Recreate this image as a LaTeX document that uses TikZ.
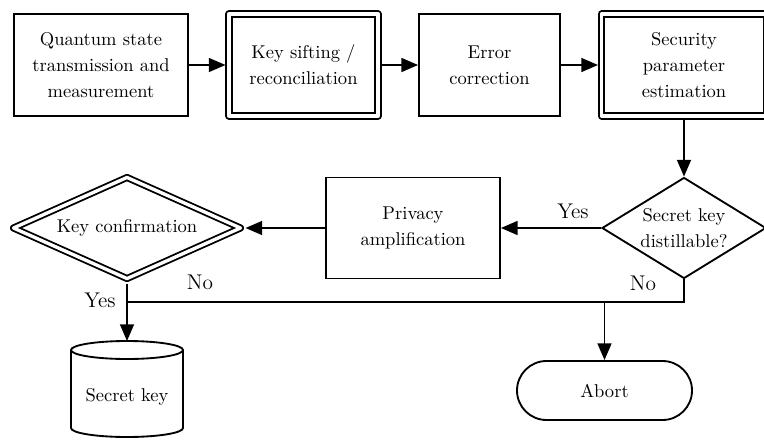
\documentclass[tikz,border=0pt]{standalone}
\usetikzlibrary{shapes.geometric,shapes.misc,arrows.meta}
\begin{document}
\begin{tikzpicture}[x=0.54pt,y=-0.54pt,
  every node/.style={font=\fontsize{10}{14}\selectfont, align=center},
  proc/.style={draw, rectangle, line width=1pt, inner sep=0pt},
  dproc/.style={proc, double, double distance=1.8pt, line join=round, outer sep=1.9pt},
  decision/.style={draw, diamond, line width=1pt, inner sep=0pt},
  ddecision/.style={decision, double, double distance=1.8pt, line join=round, outer sep=1.9pt},
  arr/.style={line width=1pt, -{Triangle[length=9pt,width=7.5pt]}},
  conn/.style={line width=1pt},
  lbl/.style={font=\fontsize{11.5}{14}\selectfont, inner sep=0pt}
]
\clip (0,0) rectangle (764,439);

\node[proc, minimum width=174*0.54pt, minimum height=102*0.54pt] (q) at (101,65)
  {Quantum state\\transmission and\\measurement};
\node[dproc, minimum width=149*0.54pt, minimum height=102*0.54pt] (ks) at (303.5,65)
  {Key sifting /\\reconciliation};
\node[proc, minimum width=141*0.54pt, minimum height=102*0.54pt] (ec) at (489.5,65)
  {Error\\correction};
\node[dproc, minimum width=165*0.54pt, minimum height=102*0.54pt] (sp) at (684,65)
  {Security\\parameter\\estimation};

\node[decision, aspect=1.62, minimum width=164*0.54pt, minimum height=101*0.54pt] (dist) at (684,228)
  {Secret key\\distillable?};
\node[proc, minimum width=174*0.54pt, minimum height=101*0.54pt] (pa) at (413,228)
  {Privacy\\amplification};
\node[ddecision, aspect=2.2, minimum width=230*0.54pt, minimum height=104*0.54pt] (kc) at (127,228)
  {Key confirmation};

\node[proc, rounded rectangle, minimum width=175*0.54pt, minimum height=59*0.54pt] (ab) at (604.5,390.5)
  {Abort};

% cylinder "Secret key"
\node (sk) at (127,397) {Secret key};
\coordinate (skt) at (127,341);
\draw[conn] (127,350) ellipse [x radius=30.24pt, y radius=4.86pt];
\draw[conn] (71,350) -- (71,428)
  arc[start angle=180, end angle=360, x radius=30.24pt, y radius=4.86pt] -- (183,350);

% connectors
\draw[arr] (q.east) -- (ks.west);
\draw[arr] (ks.east) -- (ec.west);
\draw[arr] (ec.east) -- (sp.west);
\draw[arr] (sp.south) -- (dist.north);
\draw[arr] (dist.west) -- (pa.east);
\draw[arr] (pa.west) -- (kc.east);
\draw[arr] (kc.south) -- (skt);
\coordinate (j) at (127,302);
\draw[conn] (dist.south) |- (j);
\draw[arr] (ab.north |- j) -- (ab.north);

% labels
\node[lbl] (lyes1) at (573,211) {Yes};
\node[lbl] (lno1) at (643,283) {No};
\node[lbl] (lno2) at (200,282) {No};
\node[lbl] (lyes2) at (100,300) {Yes};
\end{tikzpicture}
\end{document}
